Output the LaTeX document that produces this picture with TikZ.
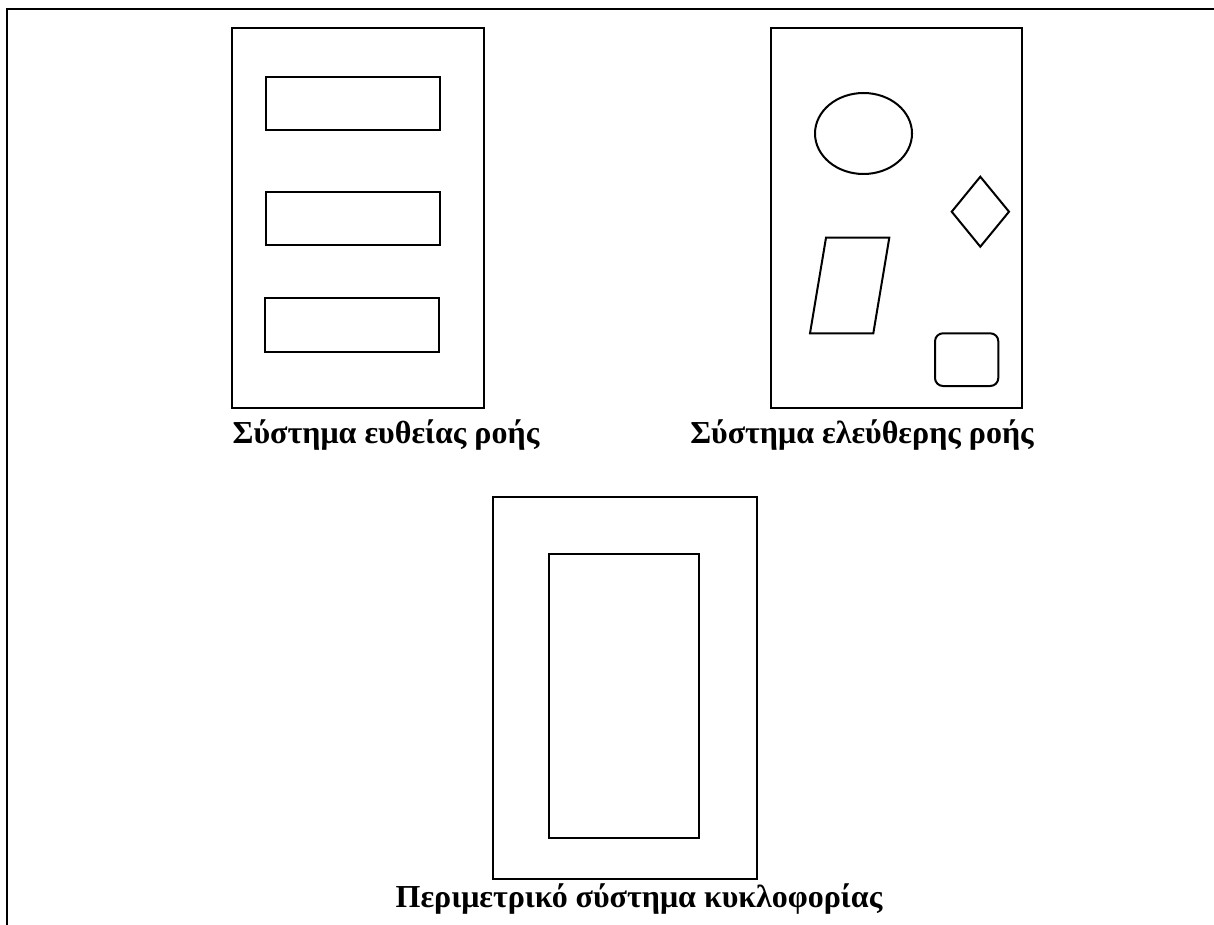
\documentclass[tikz,border=0pt]{standalone}
\usepackage{fontspec}
\setmainfont{Liberation Serif}
\begin{document}
\begin{tikzpicture}[x=1pt,y=-1pt,
  shape line/.style={draw=black,line width=2pt,line join=miter},
  caption/.style={anchor=base,inner sep=0pt,font=\fontsize{32}{36}\selectfont\bfseries}]
\useasboundingbox (0,0) rectangle (1214,925);
% page frame, open at the right and bottom
\draw[shape line,line width=2.5pt] (7,925) -- (7,9) -- (1214,9);

% straight-line flow: three rows of desks
\draw[shape line] (232,28) rectangle (484,408);
\draw[shape line] (266,77) rectangle (440,130);
\draw[shape line] (266,192) rectangle (440,245);
\draw[shape line] (265,298) rectangle (439,352);
\node[caption] (lbl1) at (386,443) {Σύστημα ευθείας ροής};

% free flow: scattered pieces
\draw[shape line] (771,28) rectangle (1022,408);
\draw[shape line] (863.5,133.5) ellipse [x radius=48.5, y radius=40.5];
\draw[shape line] (980.3,176.7) -- (1009,211.7) -- (980.3,246.7) -- (951.7,211.7) -- cycle;
\draw[shape line] (826,237.7) -- (889.3,237.7) -- (873.3,333.3) -- (810,333.3) -- cycle;
\draw[shape line,rounded corners=8pt] (935,333.3) rectangle (998.3,386);
\node[caption] (lbl2) at (862,443) {Σύστημα ελεύθερης ροής};

% perimeter circulation: block with a walkway around it
\draw[shape line] (493.3,497.3) rectangle (757.3,879.3);
\draw[shape line] (549,554) rectangle (698.7,838.3);
\node[caption] (lbl3) at (639,907) {Περιμετρικό σύστημα κυκλοφορίας};
\end{tikzpicture}
\end{document}
